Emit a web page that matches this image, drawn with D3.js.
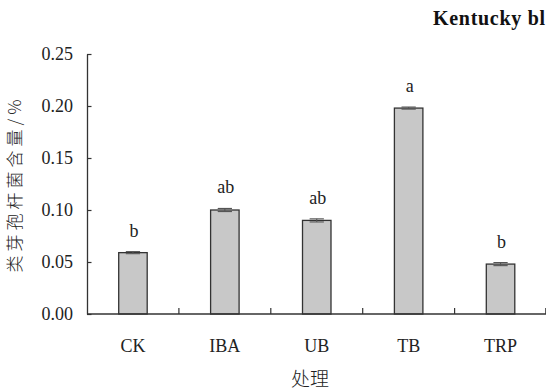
<!DOCTYPE html>
<html>
<head>
<meta charset="utf-8">
<script src="https://cdn.jsdelivr.net/npm/d3@7"></script>
<style>
  html, body { margin: 0; padding: 0; background: #fff; overflow: hidden; }
  svg { display: block; }
</style>
</head>
<body>
<script>
// Treatments, Paenibacillus content (%), standard errors and significance letters
const categories = ["CK", "IBA", "UB", "TB", "TRP"];
const values = [0.059, 0.100, 0.090, 0.198, 0.048];
const errors = [0.001, 0.0015, 0.0015, 0.001, 0.0015];
const letters = ["b", "ab", "ab", "a", "b"];
const yTicks = [0.00, 0.05, 0.10, 0.15, 0.20, 0.25];

const SERIF = "'Liberation Serif', 'Times New Roman', Times, 'DejaVu Serif', 'Noto Serif', serif";
const CJK = "'Noto Sans CJK SC', 'Noto Sans CJK JP', sans-serif";

const W = 546, H = 390;
const plotL = 87, plotR = 546.5, plotT = 54, plotB = 314;

const svg = d3.select("body").append("svg")
  .attr("width", W).attr("height", H);

const x = d3.scaleBand().domain(categories).range([plotL, plotR]).padding(0);
const y = d3.scaleLinear().domain([0, 0.25]).range([plotB, plotT]);
const barW = x.bandwidth() * 0.31;

// Bars
svg.append("g").selectAll("rect")
  .data(categories)
  .join("rect")
  .attr("x", (d) => x(d) + (x.bandwidth() - barW) / 2)
  .attr("y", (d, i) => y(values[i]))
  .attr("width", barW)
  .attr("height", (d, i) => y(0) - y(values[i]))
  .attr("fill", "#c8c8c8")
  .attr("stroke", "#333")
  .attr("stroke-width", 1.3);

// Error bars
const eb = svg.append("g").attr("stroke", "#555").attr("stroke-width", 1.1);
categories.forEach((c, i) => {
  const cx = x(c) + x.bandwidth() / 2;
  const capW = barW * 0.5;
  eb.append("line")
    .attr("x1", cx).attr("x2", cx)
    .attr("y1", y(values[i] - errors[i])).attr("y2", y(values[i] + errors[i]));
  [values[i] - errors[i], values[i] + errors[i]].forEach((v) => {
    eb.append("line")
      .attr("x1", cx - capW / 2).attr("x2", cx + capW / 2)
      .attr("y1", y(v)).attr("y2", y(v));
  });
});

// Significance letters
svg.append("g").selectAll("text")
  .data(categories)
  .join("text")
  .attr("x", (d) => x(d) + x.bandwidth() / 2 + 1)
  .attr("y", (d, i) => y(values[i] + errors[i]) - 15)
  .attr("text-anchor", "middle")
  .attr("font-family", SERIF)
  .attr("font-size", 18)
  .attr("fill", "#222")
  .text((d, i) => letters[i]);

// Y axis (ticks inside)
const yAxis = svg.append("g")
  .attr("transform", `translate(${plotL},0)`)
  .call(d3.axisLeft(y).tickValues(yTicks).tickFormat(d3.format(".2f"))
    .tickSizeInner(-4.5).tickSizeOuter(0).tickPadding(14));
yAxis.select(".domain").attr("stroke", "#333").attr("stroke-width", 1.3);
yAxis.selectAll(".tick line").attr("stroke", "#333").attr("stroke-width", 1.2);
yAxis.selectAll(".tick text")
  .attr("font-size", 18)
  .attr("font-family", SERIF)
  .attr("fill", "#222");

// X axis: ticks at category boundaries, pointing up
const xAxis = svg.append("g")
  .attr("transform", `translate(0,${plotB})`);
xAxis.append("line")
  .attr("x1", plotL).attr("x2", plotR)
  .attr("stroke", "#333").attr("stroke-width", 1.3);
xAxis.selectAll("line.bound")
  .data(categories.slice(1).concat(["__end"]))
  .join("line")
  .attr("class", "bound")
  .attr("x1", (d) => d === "__end" ? plotR - 0.7 : x(d))
  .attr("x2", (d) => d === "__end" ? plotR - 0.7 : x(d))
  .attr("y1", 0).attr("y2", -6)
  .attr("stroke", "#333").attr("stroke-width", 1.2);
xAxis.selectAll("text")
  .data(categories)
  .join("text")
  .attr("x", (d) => x(d) + x.bandwidth() / 2)
  .attr("y", 38)
  .attr("text-anchor", "middle")
  .attr("font-family", SERIF)
  .attr("font-size", 18)
  .attr("fill", "#222")
  .text((d) => d);

// Axis titles
svg.append("text")
  .attr("x", 310).attr("y", 386)
  .attr("text-anchor", "middle")
  .attr("font-family", CJK)
  .attr("font-weight", 300)
  .attr("font-size", 19)
  .attr("fill", "#222")
  .text("处理");

svg.append("text")
  .attr("transform", "translate(21,184) rotate(-90)")
  .attr("text-anchor", "middle")
  .attr("font-family", CJK)
  .attr("font-weight", 300)
  .attr("font-size", 17)
  .attr("letter-spacing", 4)
  .attr("fill", "#222")
  .text("类芽孢杆菌含量/%");

// Panel title (the figure is cropped at the right edge)
svg.append("text")
  .attr("x", 433).attr("y", 25)
  .attr("font-family", SERIF)
  .attr("font-size", 20)
  .attr("font-weight", "bold")
  .attr("letter-spacing", 0.7)
  .attr("fill", "#111")
  .text("Kentucky bl");
</script>
</body>
</html>
